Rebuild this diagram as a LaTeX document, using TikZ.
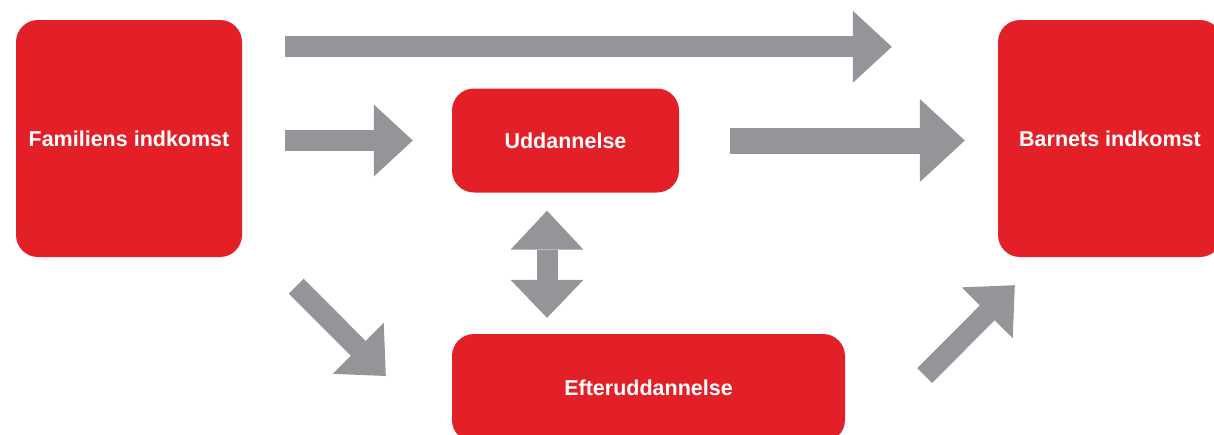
\documentclass[tikz,border=0pt]{standalone}
\usepackage{fontspec}
\setmainfont{Liberation Sans}
\usepackage{tikz}
\usetikzlibrary{arrows.meta}
\definecolor{boxred}{HTML}{E32028}
\definecolor{arrowgray}{HTML}{939598}
\tikzstyle{red box} = [rectangle, rounded corners = 22pt, fill = boxred, text = white,
                       inner sep = 0, font = \fontsize{21.5}{25}\selectfont\bfseries]
\tikzstyle{block arrow} = [draw = arrowgray, line width = 21pt,
                           -{Triangle[length = 39pt, width = 72pt, line width = 0pt]}]
\tikzstyle{wide arrow} = [draw = arrowgray, line width = 26pt,
                          -{Triangle[length = 45pt, width = 83pt, line width = 0pt]}]
\tikzstyle{twin arrow} = [draw = arrowgray, line width = 21pt,
                          {Triangle[length = 39pt, width = 73pt, line width = 0pt]}-{Triangle[length = 38pt, width = 73pt, line width = 0pt]}]
\begin{document}
\begin{tikzpicture}[x = 1pt, y = 1pt]
    \useasboundingbox (0, 0) rectangle (1214, -434);
    \clip (0, 0) rectangle (1214, -434);

    \node [red box, minimum width = 226pt, minimum height = 237pt]
          (familie) at (129, -138.5) {Familiens indkomst};
    \node [red box, minimum width = 227pt, minimum height = 104pt]
          (uddannelse) at (565.5, -140.5) {Uddannelse};
    \node [red box, minimum width = 393pt, minimum height = 108pt]
          (efter) at (648.5, -388) {Efteruddannelse};
    \node [red box, minimum width = 224pt, minimum height = 237pt]
          (barn) at (1110, -138.5) {Barnets indkomst};

    \draw [block arrow] ([shift = {(43pt, -27pt)}]familie.north east)
                     -- ([shift = {(-106pt, -27pt)}]barn.north west);
    \draw [block arrow] ([shift = {(43pt, -2pt)}]familie.east)
                     -- ([xshift = -39pt]uddannelse.west);
    \draw [wide arrow] ([xshift = 51pt]uddannelse.east)
                    -- ([shift = {(-33pt, -2pt)}]barn.west);
    \draw [twin arrow] ([shift = {(-18.5pt, -18pt)}]uddannelse.south)
                    -- ([shift = {(-101.5pt, 16pt)}]efter.north);
    \draw [block arrow] ([shift = {(54pt, -29pt)}]familie.south east)
                     -- ([shift = {(-66pt, 12pt)}]efter.west);
    \draw [block arrow] ([shift = {(79.5pt, 12.5pt)}]efter.east)
                     -- ([shift = {(17pt, -28pt)}]barn.south west);
\end{tikzpicture}
\end{document}
